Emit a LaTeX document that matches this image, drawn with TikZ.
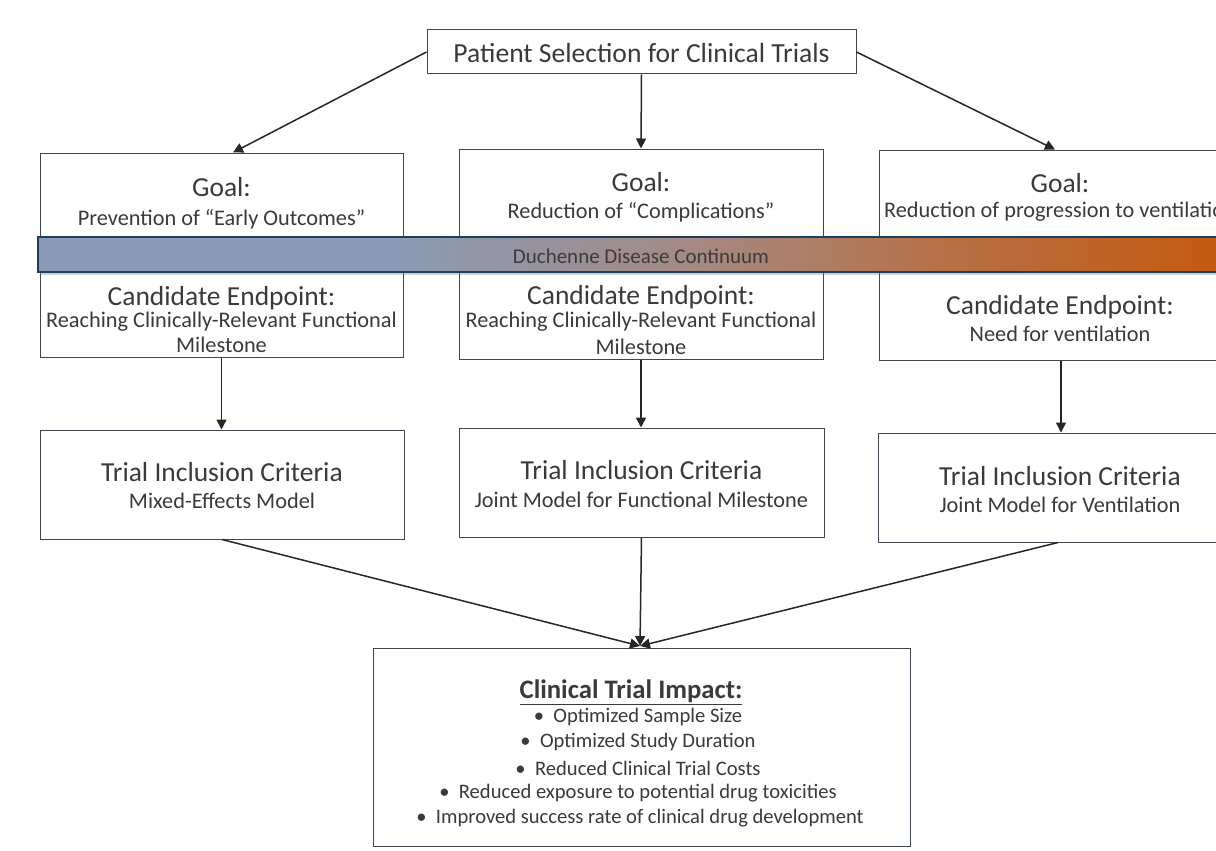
\documentclass[tikz,border=0pt]{standalone}
\usepackage{fontspec}
\setmainfont{Carlito}
\usetikzlibrary{arrows.meta,shadows}
\definecolor{txt}{HTML}{3A3A3A}
\definecolor{edge}{HTML}{3F4650}
\definecolor{bannerblue}{HTML}{8A9BB5}
\definecolor{bannermid}{HTML}{A58A84}
\definecolor{bannerorange}{HTML}{C55A11}
\definecolor{bannerline}{HTML}{1F3F5F}
\pgfdeclarehorizontalshading{continuum}{100bp}{
  color(0bp)=(bannerblue); color(25bp)=(bannerblue); color(40bp)=(bannerblue);
  color(52bp)=(bannermid); color(63bp)=(bannermid!45!bannerorange); color(74bp)=(bannerorange); color(100bp)=(bannerorange)}
\tikzset{
  box/.style={draw=edge, line width=1pt, fill=white, inner sep=0pt},
  big/.style={text=txt, font=\fontsize{27.5}{30}\selectfont, inner sep=0pt},
  small/.style={text=txt, font=\fontsize{22.3}{25}\selectfont, inner sep=0pt},
  item/.style={text=txt, font=\fontsize{20.6}{24}\selectfont, inner sep=0pt},
  conn/.style={draw=black!85, line width=1.5pt, -{Triangle[length=10pt,width=10pt]}},
}
\begin{document}
\begin{tikzpicture}[x=1pt,y=-1pt]
\useasboundingbox (0,0) rectangle (1216,851);
\clip (0,0) rectangle (1216,851);
\fill[white] (0,0) rectangle (1216,851);
% boxes
\node[box, minimum width=429pt, minimum height=44pt] (top) at (641.5,52) {};
\node[text=txt, font=\fontsize{27.6}{30}\selectfont, inner sep=0pt] (toptxt) at (641.5,53) {Patient Selection for Clinical Trials};
\node[box, minimum width=363pt, minimum height=204pt] (g1) at (221.5,255) {};
\node[box, minimum width=364pt, minimum height=210pt] (g2) at (641,254) {};
\node[box, minimum width=362pt, minimum height=210pt] (g3) at (1060,255) {};
\node[box, minimum width=364pt, minimum height=109pt] (t1) at (222,484.5) {};
\node[box, minimum width=365pt, minimum height=109pt] (t2) at (641.5,482.5) {};
\node[box, minimum width=362pt, minimum height=109pt] (t3) at (1059,487.5) {};
\node[box, minimum width=537pt, minimum height=198pt] (imp) at (641.5,747) {};
% column texts
\node[big] (g1a) at (221.5,187) {Goal:};
\node[small] (g1b) at (221.5,219) {Prevention of “Early Outcomes”};
\node[big] (g1c) at (221.5,298) {Candidate Endpoint:};
\node[small] (g1d) at (221.5,322) {Reaching Clinically-Relevant Functional};
\node[small] (g1e) at (221.5,345) {Milestone};
\node[big] (g2a) at (641,182) {Goal:};
\node[small] (g2b) at (641,212) {Reduction of “Complications”};
\node[big] (g2c) at (641,297) {Candidate Endpoint:};
\node[small] (g2d) at (641,322) {Reaching Clinically-Relevant Functional};
\node[small] (g2e) at (641,347) {Milestone};
\node[big] (g3a) at (1060,183) {Goal:};
\node[small] (g3b) at (1060,212) {Reduction of progression to ventilation};
\node[big] (g3c) at (1060,307) {Candidate Endpoint:};
\node[small] (g3d) at (1060,334) {Need for ventilation};
\node[big] (t1a) at (222,472) {Trial Inclusion Criteria};
\node[small] (t1b) at (222,501) {Mixed-Effects Model};
\node[big] (t2a) at (641.5,470) {Trial Inclusion Criteria};
\node[small] (t2b) at (641.5,500) {Joint Model for Functional Milestone};
\node[big] (t3a) at (1060,476) {Trial Inclusion Criteria};
\node[small] (t3b) at (1060,505) {Joint Model for Ventilation};
% banner
\node[draw=bannerline, line width=1.5pt, minimum width=1202pt, minimum height=35pt, inner sep=0pt,
      shading=continuum,
      drop shadow={shadow xshift=2pt, shadow yshift=-3pt, opacity=0.35}] (banner) at (639,254.5) {};
\node[text=txt, font=\fontsize{21}{24}\selectfont, inner sep=0pt] (bantxt) at (641,256) {Duchenne Disease Continuum};
% impact text
\node[text=txt, font=\bfseries\fontsize{26.7}{30}\selectfont, inner sep=0pt] (impt) at (631,692) {\underline{Clinical Trial Impact:}};
\node[item] (i1) at (638,717) {\textbullet\ \ Optimized Sample Size};
\node[item] (i2) at (638,742) {\textbullet\ \ Optimized Study Duration};
\node[item] (i3) at (638,768) {\textbullet\ \ Reduced Clinical Trial Costs};
\node[item] (i4) at (638,793) {\textbullet\ \ Reduced exposure to potential drug toxicities};
\node[item] (i5) at (640,818) {\textbullet\ \ Improved success rate of clinical drug development};
% connectors
\draw[conn] (top.west) -- (g1.north -| 233,0);
\draw[conn] (top.south) -- (g2.north);
\draw[conn] (top.east) -- (g3.north -| 1055,0);
\draw[conn] (g1.south) -- (t1.north -| g1.south);
\draw[conn] (g2.south) -- (t2.north -| g2.south);
\draw[conn] (g3.south -| 1061,0) -- (t3.north -| 1061,0);
\coordinate (hub) at (640,646);
\draw[conn] (t1.south) -- (hub);
\draw[conn] (t2.south) -- (hub);
\draw[conn] (t3.south -| 1058,0) -- (hub);
\end{tikzpicture}
\end{document}
